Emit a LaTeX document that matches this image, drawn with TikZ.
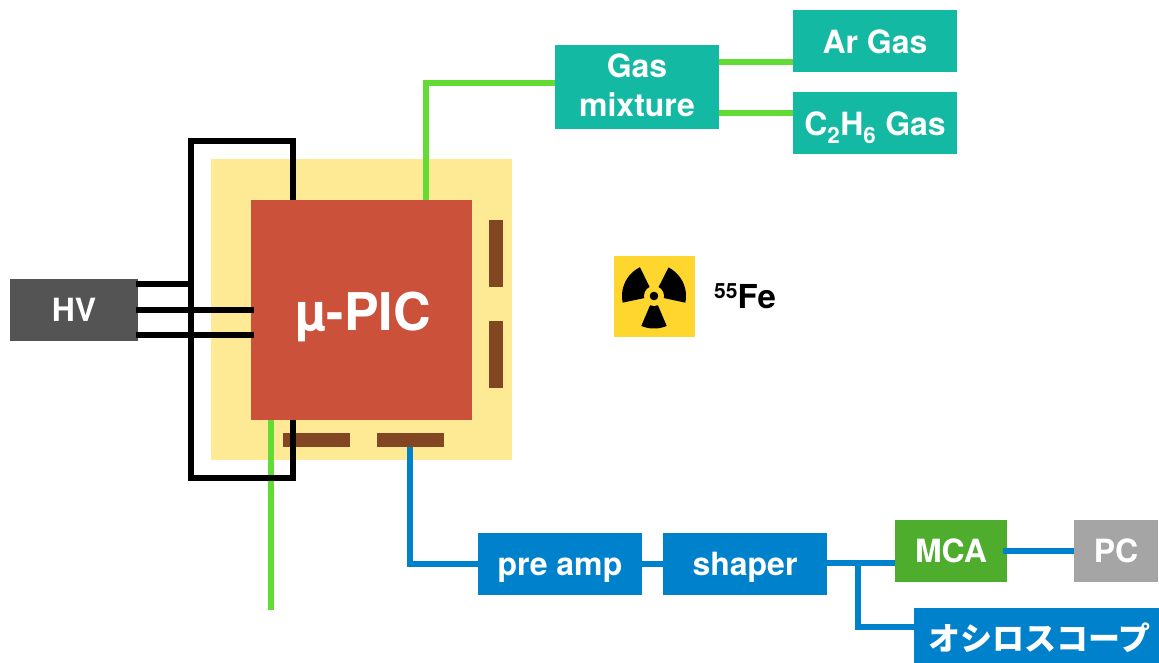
\documentclass[tikz,border=0pt]{standalone}
\usepackage{fontspec}
\setmainfont{TeX Gyre Heros}
\newfontfamily\cjkfont{Noto Sans CJK JP}
\definecolor{tealbox}{HTML}{14B9A3}
\definecolor{chipred}{HTML}{CB513B}
\definecolor{paleyellow}{HTML}{FEE995}
\definecolor{padbrown}{HTML}{824722}
\definecolor{wireblue}{HTML}{0081CC}
\definecolor{gasgreen}{HTML}{62DC35}
\definecolor{mcagreen}{HTML}{4EAD2C}
\definecolor{pcgrey}{HTML}{A5A5A5}
\definecolor{hvgrey}{HTML}{545454}
\definecolor{srcyellow}{HTML}{FFD62E}
\tikzset{
  x=1pt,y=-1pt,
  boxbase/.style={inner sep=0pt,outer sep=0pt,text=white,align=center,font=\bfseries\fontsize{32}{39}\selectfont},
  capfix/.style={text height=23pt,text depth=0pt},
  wbox/.style={boxbase,minimum width=164pt,minimum height=62pt},
  tealnode/.style={wbox,fill=tealbox},
  bluenode/.style={wbox,capfix,fill=wireblue},
  pad/.style={inner sep=0pt,outer sep=0pt,fill=padbrown},
  padh/.style={pad,minimum width=67pt,minimum height=14pt},
  padv/.style={pad,minimum width=14pt,minimum height=67pt},
  gaswire/.style={draw=gasgreen,line width=6pt},
  hvwire/.style={draw=black,line width=6pt,line join=miter},
  sigwire/.style={draw=wireblue,line width=6pt},
}
\begin{document}
\begin{tikzpicture}
\useasboundingbox (0,0) rectangle (1159,663);
\fill[white] (0,0) rectangle (1159,663);
% holder and pads
\node[inner sep=0pt,outer sep=0pt,fill=paleyellow,minimum width=301pt,minimum height=301pt] (holder) at (361.5,309.5) {};
\node[padv] (padA) at (496,253.5) {};
\node[padv] (padB) at (496,354.5) {};
\node[padh] (padC) at (316.5,440) {};
\node[padh] (padD) at (410.5,440) {};
% chip
\node[boxbase,fill=chipred,minimum width=221pt,minimum height=220pt,text height=41pt,text depth=0pt,font=\bfseries\fontsize{52}{60}\selectfont] (chip) at (361.5,310) {\hspace*{3pt}µ-PIC};
% gas boxes
\node[tealnode,minimum height=84pt] (mix) at (637,87) {Gas\\mixture\rule[-3pt]{0pt}{3pt}};
\node[tealnode,text height=25pt,text depth=0pt] (ar) at (875,41) {Ar Gas};
\node[tealnode,text height=25pt,text depth=0pt] (eth) at (875,123) {C\textsubscript{2}H\textsubscript{6} Gas};
% electronics
\node[boxbase,capfix,fill=hvgrey,minimum width=128pt,minimum height=62pt] (hv) at (74,310) {HV};
\node[bluenode] (pre) at (560,564) {pre amp};
\node[bluenode] (shp) at (745,564) {shaper};
\node[boxbase,capfix,fill=mcagreen,minimum width=112pt,minimum height=62pt] (mca) at (951,551) {MCA};
\node[boxbase,capfix,fill=pcgrey,minimum width=84pt,minimum height=62pt] (pc) at (1116,551) {PC};
\node[boxbase,fill=wireblue,minimum width=245pt,minimum height=55pt,text height=30pt,text depth=0pt,font=\cjkfont\bfseries\fontsize{32}{39}\selectfont] (osc) at (1036.5,635.5) {\hspace*{6pt}オシロスコープ};
% gas wires
\coordinate (gasout) at (271,610);
\draw[gaswire] (chip.south -| gasout) -- (gasout);
\draw[gaswire] (426,200) |- (mix.west |- 0,83);
\draw[gaswire] (mix.east |- 0,62) -- (ar.west |- 0,62);
\draw[gaswire] (mix.east |- 0,113) -- (eth.west |- 0,113);
% HV loop
\draw[hvwire] (293,200) -- (293,141) -- (191,141) -- (191,478) -- (293,478) -- (293,420);
\coordinate (hvtap) at (188,284);
\draw[hvwire] (136,284) -- (hvtap);
\draw[hvwire] (136,310) -- (254,310);
\draw[hvwire] (136,335) -- (254,335);
% signal wires
\draw[sigwire] (padD.south -| 410,0) -- (410,563.5) -- (pre.west |- 0,563.5);
\draw[sigwire] (pre.east) -- (shp.west);
\draw[sigwire] (shp.east |- 0,563) -- (mca.west |- 0,563);
\draw[sigwire] (858,563) |- (osc.west |- 0,627);
\draw[sigwire] ([xshift=-4pt]mca.east) -- (pc.west);
% source
\node[inner sep=0pt,outer sep=0pt,fill=srcyellow,minimum width=81pt,minimum height=81pt] (src) at (654.5,296.5) {};
\fill[black] plot[domain=-12:63,samples=24] ({654+32*cos(\x)},{296-32*sin(\x)}) -- (654,296) -- cycle;
\fill[black] plot[domain=116:192,samples=24] ({654+32*cos(\x)},{296-32*sin(\x)}) -- (654,296) -- cycle;
\fill[black] plot[domain=247:293,samples=24] ({654+32.5*cos(\x)},{296-32.5*sin(\x)}) -- (654,296) -- cycle;
\fill[srcyellow] (654,296) circle[radius=10];
\fill[black] (654,296) circle[radius=4.3];
\node[inner sep=0pt,anchor=base west,font=\bfseries\fontsize{33}{38}\selectfont] (fe) at (714,308) {\raisebox{10pt}{\fontsize{21}{24}\selectfont 55}Fe};
\end{tikzpicture}
\end{document}
